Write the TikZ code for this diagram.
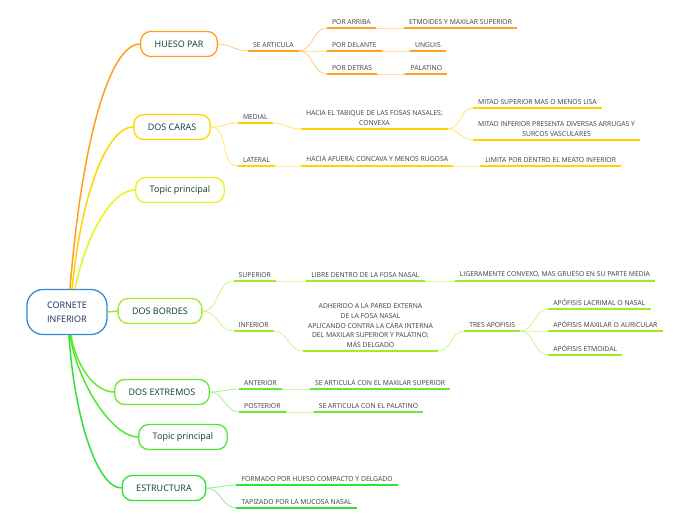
\documentclass[tikz,border=0pt]{standalone}
\usepackage{fontspec}
\setmainfont{Open Sans}
\usetikzlibrary{positioning}
\definecolor{croot}{RGB}{52,136,214}
\definecolor{cnavy}{RGB}{22,42,84}
\definecolor{ctext}{RGB}{10,60,45}
\definecolor{cleaf}{RGB}{60,60,60}
\definecolor{cor}{RGB}{255,160,30}
\definecolor{cgold}{RGB}{255,212,0}
\definecolor{cyel}{RGB}{232,242,30}
\definecolor{clime}{RGB}{160,236,40}
\definecolor{cgrn}{RGB}{104,234,50}
\definecolor{cgrnb}{RGB}{80,232,50}
\definecolor{cgrnc}{RGB}{50,226,50}
\tikzset{
  rootbox/.style={rectangle,rounded corners=16pt,draw=croot,line width=1.3pt,
    fill=white,text=cnavy,font=\fontsize{9}{14}\selectfont,align=center,
    minimum width=80pt,minimum height=45pt},
  topic/.style={rectangle,rounded corners=10pt,draw=#1,line width=1.3pt,
    fill=white,text=ctext,font=\fontsize{9}{11}\selectfont,
    minimum height=25pt,inner xsep=14pt},
  % leaves: plain text sitting on a coloured underline
  leaf/.style={font=\fontsize{6.8}{9.8}\selectfont,text=cleaf,align=center,
    inner xsep=5pt,inner ysep=3pt},
  limb/.style={draw=#1,line width=1.5pt},
  twig/.style={draw=#1!55,line width=.8pt},
  ul/.style={draw=#1,line width=1.8pt}
}

\begin{document}
\begin{tikzpicture}[x=1pt,y=-1pt]
  \useasboundingbox[fill=white] (0,0) rectangle (696,520);
  \node[rootbox] (root) at (67,312) {CORNETE\\INFERIOR};
  \node[topic=cor] (hu) at (179,44) {HUESO PAR};
  \node[topic=cgold] (ca) at (172,127) {DOS CARAS};
  \node[topic=cyel] (tp1) at (180,190) {Topic principal};
  \node[topic=clime] (bo) at (160,311) {DOS BORDES};
  \node[topic=cgrn] (ex) at (162,392) {DOS EXTREMOS};
  \node[topic=cgrnb] (tp2) at (183,437) {Topic principal};
  \node[topic=cgrnc] (es) at (164,488) {ESTRUCTURA};

  \draw[limb=cor] ([xshift=3pt]root.north) .. controls +(12,-150) and +(-30,0) .. (hu.west);
  \draw[limb=cgold] ([xshift=5pt]root.north) .. controls +(10,-100) and +(-25,0) .. (ca.west);
  \draw[limb=cyel] ([xshift=8pt]root.north) .. controls +(10,-50) and +(-25,0) .. (tp1.west);
  \draw[limb=clime] (root.east) -- (bo.west);
  \draw[limb=cgrn] ([xshift=4pt]root.south) .. controls +(5,30) and +(-20,0) .. (ex.west);
  \draw[limb=cgrnb] ([xshift=3pt]root.south) .. controls +(8,50) and +(-25,0) .. (tp2.west);
  \draw[limb=cgrnc] ([xshift=2pt]root.south) .. controls +(5,80) and +(-25,0) .. (es.west);

  % HUESO PAR
  \node[leaf,below right=7pt and 30pt of hu.east,anchor=south west] (art) {SE ARTICULA};
  \node[leaf,above right=23pt and 28pt of art.south east] (arr) {POR ARRIBA};
  \node[leaf,right=28pt of art.south east,anchor=south west] (del) {POR DELANTE};
  \node[leaf,below right=23pt and 28pt of art.south east,anchor=south west] (det) {POR DETRAS};
  \node[leaf,right=28pt of arr.south east,anchor=south west] (etm) {ETMOIDES Y MAXILAR SUPERIOR};
  \node[leaf,right=28pt of del.south east,anchor=south west] (ung) {UNGUIS};
  \node[leaf,right=28pt of det.south east,anchor=south west] (pal) {PALATINO};
  \draw[twig=cor] (hu.east) to[out=0,in=180] (art.south west);
  \foreach \a/\b in {art/arr,art/del,art/det,arr/etm,del/ung,det/pal}
    \draw[twig=cor] (\a.south east) to[out=0,in=180] (\b.south west);
  \foreach \n in {art,arr,del,det,etm,ung,pal}
    \draw[ul=cor] (\n.south west) -- (\n.south east);

  % DOS CARAS
  \node[leaf,above right=4pt and 27pt of ca.east] (med) {MEDIAL};
  \node[leaf,below right=39pt and 27pt of ca.east,anchor=south west] (lat) {LATERAL};
  \node[leaf,below right=6pt and 28pt of med.south east,anchor=south west] (tab)
    {HACIA EL TABIQUE DE LAS FOSAS NASALES;\\CONVEXA};
  \node[leaf,above right=21pt and 25pt of tab.south east] (msup) {MITAD SUPERIOR MAS O MENOS LISA};
  \node[leaf,below right=11pt and 25pt of tab.south east,anchor=south west] (minf)
    {MITAD INFERIOR PRESENTA DIVERSAS ARRUGAS Y\\SURCOS VASCULARES};
  \node[leaf,right=26pt of lat.south east,anchor=south west] (afu) {HACIA AFUERA; CONCAVA Y MENOS RUGOSA};
  \node[leaf,right=27pt of afu.south east,anchor=south west] (lim) {LIMITA POR DENTRO EL MEATO INFERIOR};
  \foreach \b in {med,lat}
    \draw[twig=cgold] (ca.east) to[out=0,in=180] (\b.south west);
  \foreach \a/\b in {med/tab,tab/msup,tab/minf,lat/afu,afu/lim}
    \draw[twig=cgold] (\a.south east) to[out=0,in=180] (\b.south west);
  \foreach \n in {med,lat,tab,msup,minf,afu,lim}
    \draw[ul=cgold] (\n.south west) -- (\n.south east);

  % DOS BORDES
  \node[leaf,above right=30pt and 31pt of bo.east] (sup) {SUPERIOR};
  \node[leaf,below right=20pt and 31pt of bo.east,anchor=south west] (inf) {INFERIOR};
  \node[leaf,right=30pt of sup.south east,anchor=south west] (lib) {LIBRE DENTRO DE LA FOSA NASAL};
  \node[leaf,right=30pt of lib.south east,anchor=south west] (lig) {LIGERAMENTE CONVEXO, MAS GRUESO EN SU PARTE MEDIA};
  \node[leaf,below right=20pt and 29pt of inf.south east,anchor=south west] (adh)
    {ADHERIDO A LA PARED EXTERNA\\DE LA FOSA NASAL\\APLICANDO CONTRA LA CARA INTERNA\\DEL MAXILAR SUPERIOR Y PALATINO;\\MÁS DELGADO};
  \node[leaf,above right=20pt and 26pt of adh.south east] (tres) {TRES APOFISIS};
  \node[leaf,above right=22pt and 28pt of tres.south east] (lac) {APÓFISIS LACRIMAL O NASAL};
  \node[leaf,right=28pt of tres.south east,anchor=south west] (aur) {APÓFISIS MAXILAR O AURICULAR};
  \node[leaf,below right=24pt and 28pt of tres.south east,anchor=south west] (etmo) {APÓFISIS ETMOIDAL};
  \foreach \b in {sup,inf}
    \draw[twig=clime] (bo.east) to[out=0,in=180] (\b.south west);
  \foreach \a/\b in {sup/lib,lib/lig,inf/adh,adh/tres,tres/lac,tres/aur,tres/etmo}
    \draw[twig=clime] (\a.south east) to[out=0,in=180] (\b.south west);
  \foreach \n in {sup,inf,lib,lig,adh,tres,lac,aur,etmo}
    \draw[ul=clime] (\n.south west) -- (\n.south east);

  % DOS EXTREMOS
  \node[leaf,above right=3pt and 29pt of ex.east] (ant) {ANTERIOR};
  \node[leaf,below right=20pt and 29pt of ex.east,anchor=south west] (pos) {POSTERIOR};
  \node[leaf,right=28pt of ant.south east,anchor=south west] (emx) {SE ARTICULA CON EL MAXILAR SUPERIOR};
  \node[leaf,right=28pt of pos.south east,anchor=south west] (epa) {SE ARTICULA CON EL PALATINO};
  \foreach \b in {ant,pos}
    \draw[twig=cgrn] (ex.east) to[out=0,in=180] (\b.south west);
  \foreach \a/\b in {ant/emx,pos/epa}
    \draw[twig=cgrn] (\a.south east) to[out=0,in=180] (\b.south west);
  \foreach \n in {ant,pos,emx,epa}
    \draw[ul=cgrn] (\n.south west) -- (\n.south east);

  % ESTRUCTURA
  \node[leaf,above right=3pt and 30pt of es.east] (frm) {FORMADO POR HUESO COMPACTO Y DELGADO};
  \node[leaf,below right=20pt and 30pt of es.east,anchor=south west] (tap) {TAPIZADO POR LA MUCOSA NASAL};
  \foreach \b in {frm,tap}
    \draw[twig=cgrnc] (es.east) to[out=0,in=180] (\b.south west);
  \foreach \n in {frm,tap}
    \draw[ul=cgrnc] (\n.south west) -- (\n.south east);
\end{tikzpicture}
\end{document}
